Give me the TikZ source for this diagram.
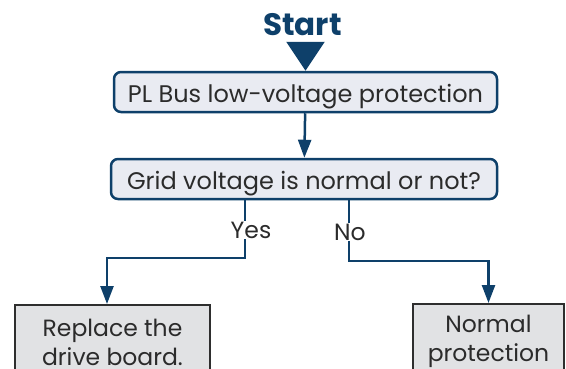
\documentclass[tikz,border=0pt]{standalone}
\usepackage{fontspec}
\setmainfont{Poppins}
\usetikzlibrary{arrows.meta,positioning}
\definecolor{navy}{HTML}{0E406A}
\definecolor{navylite}{HTML}{E9EBF2}
\definecolor{ink}{HTML}{2B2B2B}
\definecolor{greylite}{HTML}{E1E2E4}
\definecolor{greyline}{HTML}{2E2E2E}

\begin{document}
\begin{tikzpicture}[x=1pt,y=-1pt,>={Triangle[length=18pt,width=13pt]},
    flowbox/.style={rounded corners=7pt,fill=navylite,draw=navy,line width=2.5pt,text=ink,font=\fontsize{24}{28}\selectfont,inner sep=0pt,text height=21pt,text depth=0pt},
    endbox/.style={fill=greylite,draw=greyline,line width=2.2pt,text=ink,font=\fontsize{23.5}{29}\selectfont,align=center,inner sep=0pt},
    flow/.style={draw=navy,line width=2.5pt},
    lbl/.style={fill=white,text=ink,font=\fontsize{23.5}{28}\selectfont,inner sep=1pt}]
      \useasboundingbox (0,0) rectangle (566,368);
      \clip (0,0) rectangle (566,368);
      \node[font=\fontsize{31}{34}\selectfont\bfseries,text=navy,inner sep=0pt] (start) at (302.5,25) {Start};
      \node[flowbox,minimum width=383pt,minimum height=40pt] (plbus) at (305.5,92) {PL Bus low-voltage protection};
      \node[flowbox,minimum width=386pt,minimum height=40pt] (grid) at (304,179) {Grid voltage is normal or not?};
      \node[endbox,minimum width=195pt,minimum height=74pt,anchor=north] (fix) at (112.5,304) {Replace the\\drive board.};
      \node[endbox,minimum width=151pt,minimum height=74pt,anchor=north] (normal) at (488.5,303) {Normal\\protection};
      \coordinate (yx) at (245,258);
      \coordinate (nx) at (349,261);
      \draw[navy,line width=2.5pt,-{Triangle[length=29pt,width=38pt]},shorten <=9pt] (start.south -| plbus.north) -- (plbus.north);
      \draw[flow,->] (plbus) -- (grid);
      \draw[flow,->] (grid.south -| yx) -- (yx) -| ([xshift=-5.5pt]fix.north);
      \draw[flow,->] (grid.south -| nx) -- (nx) -| (normal.north);
      \node[lbl] (yes) at (251,230) {Yes};
      \node[lbl] (no) at (350,232) {No};
    \end{tikzpicture}
\end{document}
